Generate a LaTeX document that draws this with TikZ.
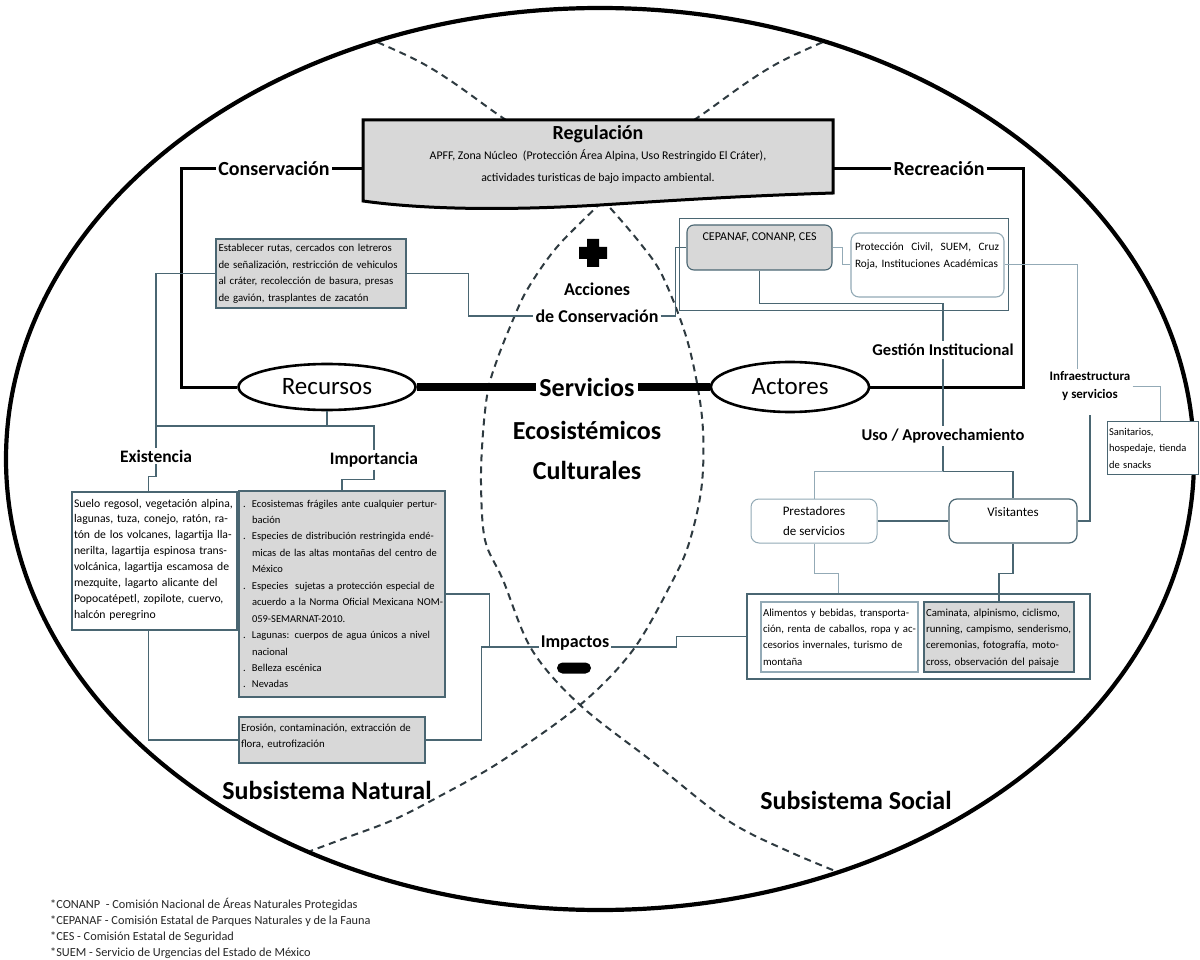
\documentclass[tikz,border=0pt]{standalone}
\usepackage{graphicx}
\usepackage{fontspec}
\setmainfont{Carlito}
\usetikzlibrary{shapes.geometric,calc}
\definecolor{boxgray}{HTML}{D8D8D8}
\definecolor{slate}{HTML}{4A6672}
\definecolor{lslate}{HTML}{93AAB6}
\definecolor{dashc}{HTML}{2E3A40}
\newcommand\jw[2]{\sbox0{#2}\ifdim\wd0>#1\relax\resizebox{#1}{\height}{#2}\else\makebox[#1][s]{#2}\fi}
\newcommand\jl[1]{\jw{\hsize}{#1}}
\newcommand\bul{\makebox[11pt][l]{\kern2pt.}}
\newcommand\bjl[1]{\bul\jw{\dimexpr\hsize-11pt\relax}{#1}}
\newcommand\cjl[1]{\hspace*{11pt}\jw{\dimexpr\hsize-11pt\relax}{#1}}
\newcommand\bll[1]{\bul #1}
\newcommand\cll[1]{\hspace*{11pt}#1}
\begin{document}
\begin{tikzpicture}[x=1pt,y=-1pt,
  heavy/.style={line width=3pt,black},
  conn/.style={line width=1.1pt,slate},
  lconn/.style={line width=1pt,lslate},
  box/.style={draw=slate,line width=1.1pt,inner xsep=2pt,inner ysep=2pt,align=left},
  gbox/.style={box,fill=boxgray},
  wbox/.style={box,fill=white},
  sm/.style={font=\fontsize{10.8}{16.4}\selectfont},
  lab/.style={font=\fontsize{17.5}{20}\selectfont\bfseries,inner sep=2pt},
  oval/.style={draw,ellipse,line width=2.6pt,fill=white,inner sep=0pt,font=\fontsize{25}{25}\selectfont},
  big/.style={font=\fontsize{26}{26}\selectfont\bfseries,inner sep=3pt},
  dsh/.style={dashc,line width=2pt,dash pattern=on 7pt off 5pt},
]
\fill[white] (0,0) rectangle (1200,960);
\useasboundingbox (0,0) rectangle (1200,960);

% Venn dashed curves
\begin{scope}
\clip (600,459) ellipse [x radius=592, y radius=449];
\draw[dsh] plot[smooth,tension=0.55] coordinates {(300,10) (420,62) (503,118) (560,155) (603,200) (640,243) (663,277) (688,343) (702,417) (702,483) (690,540) (673,580) (633,650) (580,705) (500,762) (440,796) (393,820) (340,840) (270,866)};
\draw[dsh] plot[smooth,tension=0.55] coordinates {(900,10) (780,62) (697,118) (640,155) (603,200) (557,247) (527,290) (510,327) (497,360) (488,390) (483,433) (481,483) (485,540) (503,580) (532,650) (580,705) (653,762) (727,820) (790,852) (870,885)};
\end{scope}
\draw[line width=4.2pt] (600,459) ellipse [x radius=594, y radius=451];

% Regulacion document shape
\draw[line width=3pt,fill=boxgray] (363,120) -- (833,120) -- (833,193) .. controls (740,196) and (680,200) .. (600,205) .. controls (500,211) and (420,209) .. (363,201) -- cycle;
\node[font=\fontsize{20}{22}\selectfont\bfseries] (reg) at (598,134) {Regulación};
\node[font=\fontsize{11.8}{22}\selectfont, align=center] (regtxt) at (598,167) {APFF, Zona Núcleo\ \ (Protección Área Alpina, Uso Restringido El Cráter),\\actividades turisticas de bajo impacto ambiental.};
\coordinate (regW) at (363,169);
\coordinate (regE) at (833,169);

% main labels
\node[font=\fontsize{20}{22}\selectfont\bfseries,inner sep=2pt] (cons) at (274,169) {Conservación};
\node[font=\fontsize{20}{22}\selectfont\bfseries,inner sep=2pt] (recr) at (939,169) {Recreación};
\node[oval,minimum width=177,minimum height=46] (rec) at (327,387) {Recursos};
\node[oval,minimum width=158,minimum height=50] (act) at (790,387) {Actores};
\node[big] (serv) at (587,387) {Servicios};
\node[big] (eco) at (587,430) {Ecosistémicos};
\node[big] (cult) at (587,470) {Culturales};

\draw[heavy] (regW) -- (cons.east);
\draw[heavy] (cons.west) -- ++(-35,0) |- (rec.west);
\draw[heavy] (regE) -- (recr.west);
\draw[heavy] (recr.east) -- ++(37,0) |- (act.east);
\draw[line width=7.5pt] (rec.east) -- (serv.west);
\draw[line width=7.5pt] (serv.east) -- (act.west);

% Acciones de conservacion
\fill (587,239) -- (599,239) -- (599,247) -- (607,247) -- (607,259) -- (599,259) -- (599,267) -- (587,267) -- (587,259) -- (579,259) -- (579,247) -- (587,247) -- cycle;
\node[font=\fontsize{18}{20}\selectfont\bfseries,inner sep=2pt] (acc1) at (597,289) {Acciones};
\node[font=\fontsize{18}{20}\selectfont\bfseries,inner sep=2pt] (acc2) at (597,316) {de Conservación};

\node[gbox,sm,text width=185,inner xsep=2.5pt,text height=11,text depth=54] (estab) at (311,273.5) {\jl{Establecer rutas, cercados con letreros}\\\jl{de señalización, restricción de vehiculos}\\\jl{al cráter, recolección de basura, presas}\\de gavión, trasplantes de zacatón};

% upper right container
\node[draw=slate,line width=1pt,minimum width=329,minimum height=91,inner sep=0] (cont1) at (843.5,264.5) {};
\node[gbox,rounded corners=7,minimum width=145,align=center,inner ysep=4pt,text height=12,text depth=25,font=\fontsize{12}{14}\selectfont] (cep) at (759.5,247.5) {CEPANAF, CONANP, CES};
\node[wbox,draw=lslate,rounded corners=8,text width=145,inner xsep=4pt,inner ysep=4pt,text height=14,text depth=42,font=\fontsize{11.3}{17}\selectfont] (prot) at (927.5,265) {\jl{Protección\ \ Civil,\ \ SUEM,\ \ Cruz}\\Roja, Instituciones Académicas};

\node[font=\fontsize{16.5}{18}\selectfont\bfseries,inner sep=3pt] (gest) at (943,350) {Gestión Institucional};
\node[font=\fontsize{16.5}{18}\selectfont\bfseries,inner sep=3pt] (uso) at (943,436) {Uso / Aprovechamiento};
\node[font=\fontsize{13}{18}\selectfont\bfseries,align=center,inner sep=2pt] (infra) at (1090,386) {Infraestructura\\y servicios};
\node[wbox,draw=slate,line width=0.9pt,text width=87,font=\fontsize{10.5}{16.5}\selectfont,text height=12,text depth=37] (sanit) at (1152.5,447.5) {Sanitarios,\\hospedaje, tienda\\de snacks};

\node[draw=lslate,line width=1pt,rounded corners=8,fill=white,minimum width=126,minimum height=44,align=center,font=\fontsize{13}{20}\selectfont] (pres) at (814,521) {Prestadores\\de servicios};
\node[draw=slate,line width=1.2pt,rounded corners=8,fill=white,minimum width=128,align=center,inner ysep=4pt,text height=13,text depth=23,font=\fontsize{13}{15}\selectfont] (vis) at (1013,521) {Visitantes};

% lower right
\node[draw=slate,line width=1.2pt,minimum width=343,minimum height=85,inner sep=0] (cont2) at (918.5,636.5) {};
\node[wbox,draw=lslate,sm,text width=153,text height=12,text depth=54] (alim) at (839.5,637) {\jl{Alimentos y bebidas, transporta-}\\\jl{ción, renta de caballos, ropa y ac-}\\\jl{cesorios invernales, turismo de}\\montaña};
\node[gbox,line width=1.3pt,sm,text width=146,text height=12,text depth=54] (cam) at (999,637) {\jl{Caminata, alpinismo, ciclismo,}\\\jl{running, campismo, senderismo,}\\\jl{ceremonias, fotografía, moto-}\\cross, observación del paisaje};

% left side
\node[lab] (exi) at (156,456) {Existencia};
\node[lab] (impo) at (374,460) {Importancia};
\node[wbox,font=\fontsize{11.7}{15.9}\selectfont,text width=161,text height=13,text depth=121] (exbox) at (154.5,561) {\jl{Suelo regosol, vegetación alpina,}\\\jl{lagunas, tuza, conejo, ratón, ra-}\\\jl{tón de los volcanes, lagartija lla-}\\\jl{nerilta, lagartija espinosa trans-}\\\jl{volcánica, lagartija escamosa de}\\\jl{mezquite, lagarto alicante del}\\\jl{Popocatépetl, zopilote, cuervo,}\\halcón peregrino};
\node[gbox,font=\fontsize{10.5}{16.45}\selectfont,text width=202,text height=14,text depth=188] (impobox) at (342,594) {\bjl{Ecosistemas frágiles ante cualquier pertur-}\\\cll{bación}\\\bjl{Especies de distribución restringida endé-}\\\cjl{micas de las altas montañas del centro de}\\\cll{México}\\\bjl{Especies\ \ sujetas a protección especial de}\\\cjl{acuerdo a la Norma Oficial Mexicana NOM-}\\\cll{059-SEMARNAT-2010.}\\\bjl{Lagunas: cuerpos de agua únicos a nivel}\\\cll{nacional}\\\bll{Belleza escénica}\\\bll{Nevadas}};
\node[gbox,sm,text width=182,text height=12,text depth=30] (ero) at (332,740) {\jl{Erosión, contaminación, extracción de}\\flora, eutrofización};

\node[font=\fontsize{18}{20}\selectfont\bfseries,inner sep=2pt] (impc) at (575,643) {Impactos};
\node[fill=black,rounded corners=5.5pt,minimum width=34,minimum height=11,inner sep=0] (minus) at (574,668) {};

\node[font=\fontsize{26}{28}\selectfont\bfseries] (subN) at (327,790) {Subsistema Natural};
\node[font=\fontsize{26}{28}\selectfont\bfseries] (subS) at (856,800) {Subsistema Social};

\node[anchor=west,align=left,inner sep=0,text=black!85,font=\fontsize{12.3}{16}\selectfont] (notes) at (50,928) {*CONANP\ \ - Comisión Nacional de Áreas Naturales Protegidas\\*CEPANAF - Comisión Estatal de Parques Naturales y de la Fauna\\*CES - Comisión Estatal de Seguridad\\*SUEM - Servicio de Urgencias del Estado de México};

% thin connectors
\coordinate (j1) at (327,426);
\draw[conn] (estab.west) -| (exi.north);
\draw[conn] (rec.south) -- (j1) -| (impo.north);
\draw[conn] (j1) -| (exi.north);
\draw[conn] (exi.south) -- ++(0,12) -| ($(exbox.north)+(-6,0)$);
\draw[conn] (impo.south) -- ++(0,10) -| (impobox.north);
\draw[conn] ($(exbox.south)+(-6,0)$) |- (ero.west);
\draw[conn] (estab.east) -- ++(62,0) |- (acc2.west);
\draw[conn] (acc2.east) -- ++(15,0) |- (cep.west);
\draw[lconn] (cep.east) -- ++(10,0) |- (prot.west);
\draw[conn] (cep.south) -- ++(0,33) -| (gest.north);
\draw[conn] (gest.south) -- (uso.north);
\draw[lconn] (prot.east) -| ($(infra.north)+(-13,0)$);
\draw[lconn] (infra.east) -| ($(sanit.north)+(8,0)$);
\draw[conn,shorten >=12pt] (vis.east) -| (infra.south);
\coordinate (j2) at ($(uso.south)+(0,25)$);
\draw[conn] (uso.south) -- (j2) -| (vis.north);
\draw[lconn] (j2) -| (pres.north);
\draw[conn] (pres.east) -- (vis.west);
\draw[lconn] (pres.south) -- ++(0,30) -| ($(cont2.north west)+(92,0)$);
\draw[conn] (vis.south) -- ++(0,30) -| (cam.north);
\draw[conn] ($(impc.east)+(0,4)$) -- ++(65,0) |- (cont2.west);
\draw[conn] ($(impc.west)+(0,4)$) -- ++(-57,0) |- (ero.east);
\draw[conn] (impobox.east) -- ++(44,0) |- ($(impc.west)+(0,4)$);
\end{tikzpicture}
\end{document}
